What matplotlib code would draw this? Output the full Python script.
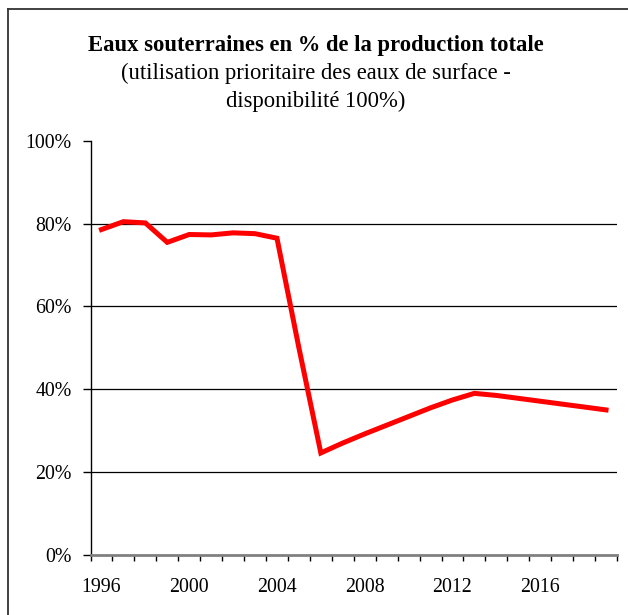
import matplotlib
matplotlib.use("Agg")
import matplotlib.pyplot as plt
from matplotlib.lines import Line2D

years = list(range(1996, 2020))
share_pct = [78.6, 80.5, 80.2, 75.5, 77.4, 77.3, 77.8, 77.6, 76.5, 50.0,
             24.6, 27.0, 29.2, 31.3, 33.4, 35.5, 37.4, 39.0, 38.5, 37.8,
             37.1, 36.4, 35.7, 35.0]
y_ticks = [0, 20, 40, 60, 80, 100]
y_tick_labels = ["0%", "20%", "40%", "60%", "80%", "100%"]
x_label_years = [1996, 2000, 2004, 2008, 2012, 2016]

title = "Eaux souterraines en % de la production totale"
subtitle1 = "(utilisation prioritaire des eaux de surface -"
subtitle2 = "disponibilité 100%)"

plt.rcParams['font.family'] = ['Liberation Serif', 'DejaVu Serif']

fig = plt.figure(figsize=(6.28, 6.15), dpi=100)
ax = fig.add_axes([90.5/628, 1-554.7/615, (617-90.5)/628, (554.7-141)/615])

idx = list(range(len(years)))
ax.plot(idx, share_pct, color="#ff0000", lw=3.6, solid_joinstyle="miter", zorder=3)

ax.set_xlim(-0.5, len(years)-0.5)
ax.set_ylim(0, 100)

# category boundaries as major ticks, labels as minor ticks
ax.set_xticks([i - 0.5 for i in range(len(years)+1)])
ax.set_xticklabels([])
lab_pos = [years.index(y) for y in x_label_years]
ax.set_xticks(lab_pos, minor=True)
ax.set_xticklabels([str(y) for y in x_label_years], minor=True)
ax.tick_params(axis='x', which='major', direction='out', length=4.5, width=1, color='black')
ax.tick_params(axis='x', which='minor', length=0, pad=16.5, labelsize=14.3)

ax.set_yticks(y_ticks)
ax.set_yticklabels(y_tick_labels)
ax.tick_params(axis='y', direction='out', length=5.5, width=1, pad=8, labelsize=14.3)

for v in y_ticks[1:-1]:
    ax.axhline(v, color='black', lw=0.9, zorder=1)

ax.spines['top'].set_visible(False)
ax.spines['right'].set_visible(False)
ax.spines['left'].set_color('black')
ax.spines['left'].set_linewidth(1.0)
ax.spines['bottom'].set_color('#808080')
ax.spines['bottom'].set_linewidth(2.0)
ax.spines['bottom'].set_zorder(4)

fig.text(316/628, 1-45/615, title, ha='center', va='center', fontsize=16.3, fontweight='bold')
fig.text(316/628, 1-73/615, subtitle1, ha='center', va='center', fontsize=16.3)
fig.text(316/628, 1-101/615, subtitle2, ha='center', va='center', fontsize=16.3)

# outer border (left and top visible)
fig.add_artist(Line2D([7.5/628, 7.5/628], [0, 1-9/615], transform=fig.transFigure, color='#333333', lw=1.3))
fig.add_artist(Line2D([7.5/628, 1], [1-9/615, 1-9/615], transform=fig.transFigure, color='#333333', lw=1.3))

fig.savefig("out.png", dpi=100)
